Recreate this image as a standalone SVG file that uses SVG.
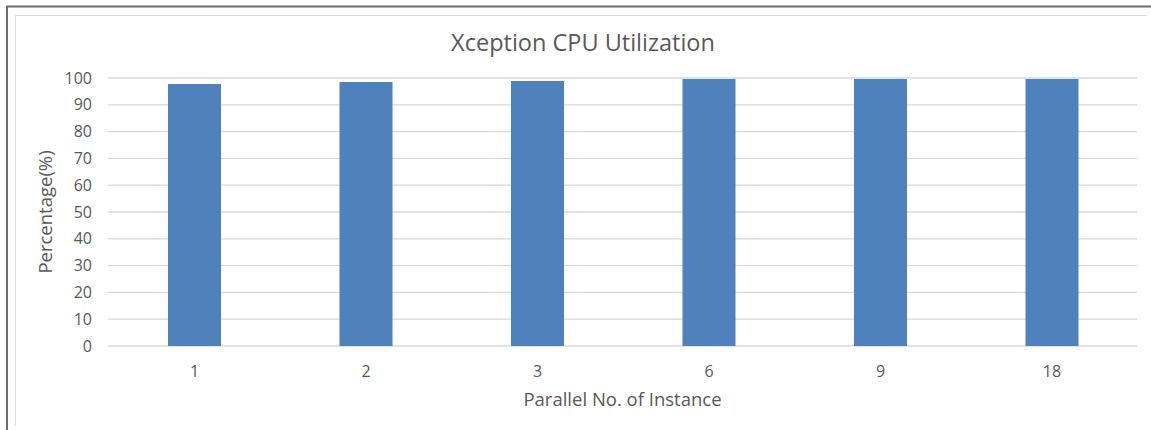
<svg xmlns="http://www.w3.org/2000/svg" width="1151" height="430" viewBox="0 0 1151 430">
<style>
.grid{stroke:#d9d9d9;stroke-width:1.3}
.bar{fill:#4f81bd}
.tick{font-family:"Open Sans","Liberation Sans",sans-serif;font-size:16px;fill:#595959}
.yt{text-anchor:end}
.xt{text-anchor:middle}
.title{font-family:"Open Sans","Liberation Sans",sans-serif;font-size:23.5px;fill:#595959;text-anchor:middle}
.axt{font-family:"Open Sans","Liberation Sans",sans-serif;font-size:18.5px;fill:#595959;text-anchor:middle}
</style>
<rect width="1151" height="430" fill="#ffffff"/>
<g id="frame">
<path d="M7 430 V6.5 H1151" fill="none" stroke="#6d6d6d" stroke-width="2"/>
<path d="M15.5 426 V15.5 H1147" fill="none" stroke="#d9d9d9" stroke-width="1"/>
</g>
<g id="title"><text class="title" x="583" y="51">Xception CPU Utilization</text></g>
<g id="gridlines">
<line class="grid" x1="108" y1="78" x2="1137" y2="78"/>
<line class="grid" x1="108" y1="104.8" x2="1137" y2="104.8"/>
<line class="grid" x1="108" y1="131.6" x2="1137" y2="131.6"/>
<line class="grid" x1="108" y1="158.4" x2="1137" y2="158.4"/>
<line class="grid" x1="108" y1="185.2" x2="1137" y2="185.2"/>
<line class="grid" x1="108" y1="212" x2="1137" y2="212"/>
<line class="grid" x1="108" y1="238.8" x2="1137" y2="238.8"/>
<line class="grid" x1="108" y1="265.6" x2="1137" y2="265.6"/>
<line class="grid" x1="108" y1="292.4" x2="1137" y2="292.4"/>
<line class="grid" x1="108" y1="319.2" x2="1137" y2="319.2"/>
<line class="grid" x1="108" y1="346" x2="1137" y2="346"/>
</g>
<g id="y-labels">
<text class="tick yt" x="92" y="83.5">100</text>
<text class="tick yt" x="92" y="110.3">90</text>
<text class="tick yt" x="92" y="137.1">80</text>
<text class="tick yt" x="92" y="163.9">70</text>
<text class="tick yt" x="92" y="190.7">60</text>
<text class="tick yt" x="92" y="217.5">50</text>
<text class="tick yt" x="92" y="244.3">40</text>
<text class="tick yt" x="92" y="271.1">30</text>
<text class="tick yt" x="92" y="297.9">20</text>
<text class="tick yt" x="92" y="324.7">10</text>
<text class="tick yt" x="92" y="351.5">0</text>
</g>
<g id="bars">
<rect id="bar-1" class="bar" x="168" y="84" width="53" height="262"/>
<rect id="bar-2" class="bar" x="339.5" y="82" width="53" height="264"/>
<rect id="bar-3" class="bar" x="511" y="81" width="53" height="265"/>
<rect id="bar-6" class="bar" x="682.5" y="79" width="53" height="267"/>
<rect id="bar-9" class="bar" x="854" y="79" width="53" height="267"/>
<rect id="bar-18" class="bar" x="1025.5" y="79" width="53" height="267"/>
</g>
<g id="x-labels">
<text class="tick xt" x="194.5" y="377">1</text>
<text class="tick xt" x="366" y="377">2</text>
<text class="tick xt" x="537.5" y="377">3</text>
<text class="tick xt" x="709" y="377">6</text>
<text class="tick xt" x="880.5" y="377">9</text>
<text class="tick xt" x="1052" y="377">18</text>
</g>
<g id="axis-titles">
<text class="axt" x="622.5" y="406">Parallel No. of Instance</text>
<text class="axt" transform="translate(52 212) rotate(-90)">Percentage(%)</text>
</g>
</svg>
